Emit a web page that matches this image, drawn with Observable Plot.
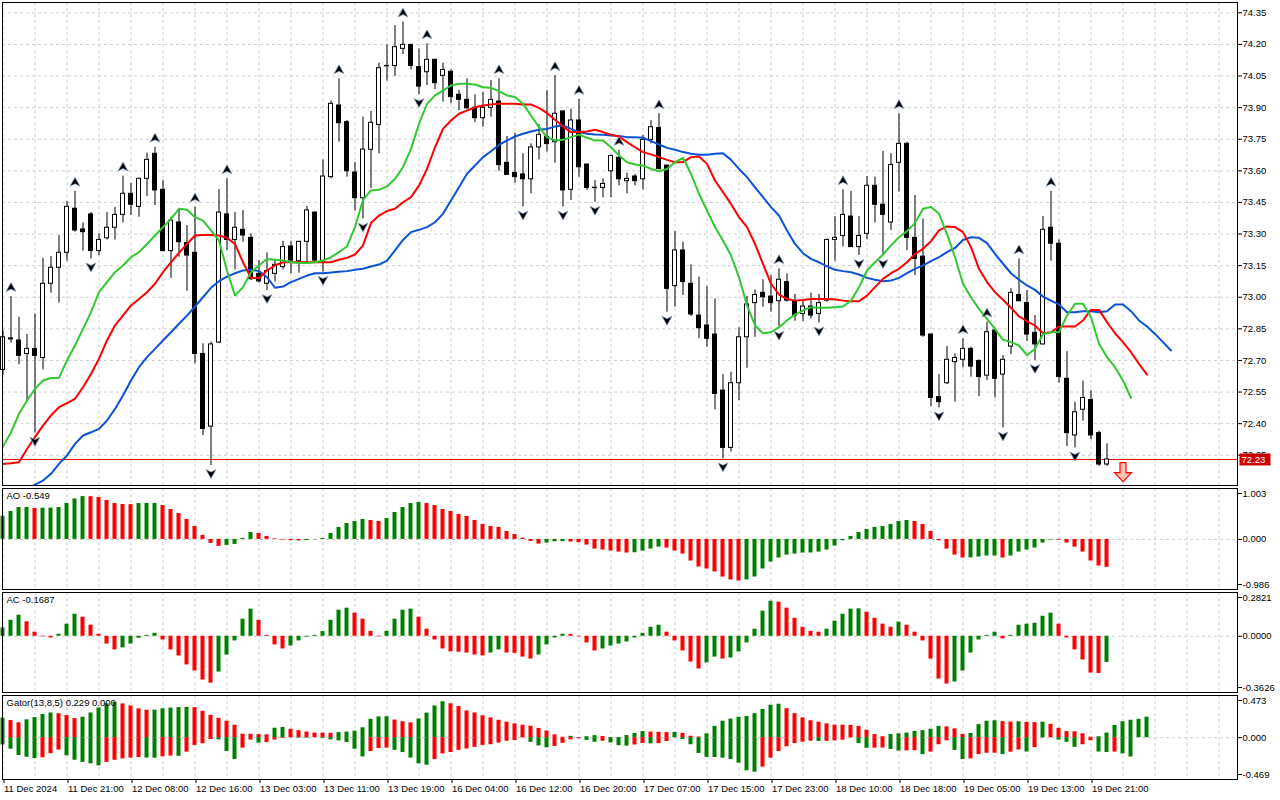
<!DOCTYPE html>
<html><head><meta charset="utf-8">
<script src="https://cdn.jsdelivr.net/npm/d3@7"></script>
<script src="https://cdn.jsdelivr.net/npm/@observablehq/plot@0.6"></script>
<style>
html,body{margin:0;padding:0;background:#fff;}
#chart{position:relative;width:1280px;height:800px;overflow:hidden;background:#fff;}
#chart svg{position:absolute;left:0;display:block;}
</style></head>
<body><div id="chart"></div>
<script>
// ---------- DATA ----------
const open = [72.655,72.80,72.795,72.731,72.755,72.712,73.064,73.14,73.211,73.42,
 73.322,73.393,73.219,73.28,73.33,73.391,73.491,73.429,73.562,73.681,
 73.51,73.219,73.355,73.257,73.211,72.731,72.386,72.785,73.393,73.272,
 73.32,73.282,73.111,73.064,73.111,73.143,73.241,73.171,73.263,73.402,
 73.166,73.57,73.91,73.831,73.592,73.47,73.70,73.818,74.098,74.098,
 74.179,74.198,74.092,74.068,74.127,74.051,74.07,73.961,73.937,73.899,
 73.85,73.899,73.929,73.638,73.59,73.583,73.56,73.711,73.761,73.736,
 73.882,73.51,73.839,73.63,73.52,73.519,73.598,73.662,73.551,73.573,
 73.56,73.747,73.803,73.625,73.053,73.222,73.064,72.913,72.866,72.823,
 72.557,72.285,72.592,72.81,72.972,73.021,73.003,72.981,73.072,72.981,
 72.921,72.956,72.921,72.984,73.272,73.291,73.383,73.238,73.301,73.529,
 73.439,73.355,73.638,73.728,73.282,73.193,72.823,72.526,72.592,72.692,
 72.703,72.755,72.697,72.628,72.842,72.633,72.766,73.011,72.973,72.831,
 72.776,73.33,73.254,72.613,72.344,72.466,72.512,72.355,72.206];
const high = [72.84,73.003,72.905,72.823,72.921,73.185,73.193,73.293,73.454,73.503,
 73.353,73.402,73.301,73.402,73.426,73.575,73.54,73.565,73.684,73.712,
 73.554,73.38,73.412,73.34,73.428,72.779,72.787,73.511,73.562,73.402,
 73.412,73.301,73.174,73.211,73.174,73.266,73.266,73.266,73.431,73.405,
 73.652,73.931,74.037,73.839,73.64,73.855,73.882,74.111,74.198,74.29,
 74.306,74.2,74.179,74.203,74.13,74.111,74.079,73.981,74.037,73.961,
 73.973,74.029,74.037,73.763,73.779,73.681,73.728,73.82,73.981,74.052,
 73.885,73.893,73.939,73.632,73.554,73.562,73.673,73.697,73.589,73.583,
 73.768,73.839,73.871,73.627,73.312,73.262,73.154,73.095,73.05,72.992,
 72.633,72.644,72.855,73.004,73.035,73.083,73.103,73.135,73.111,73.013,
 72.984,73.019,73.013,73.277,73.383,73.51,73.502,73.383,73.573,73.57,
 73.692,73.681,73.871,73.736,73.483,73.372,72.825,72.633,72.766,72.731,
 72.803,72.763,72.703,72.882,72.845,72.723,73.04,73.182,73.032,72.913,
 73.383,73.503,73.273,72.742,72.502,72.602,72.557,72.364,72.304];
const low = [72.63,72.782,72.68,72.502,72.355,72.655,73.019,72.972,73.171,73.309,
 73.219,73.182,73.198,73.272,73.272,73.352,73.388,73.38,73.478,73.435,
 73.215,73.09,73.19,73.029,72.684,72.344,72.201,72.78,73.222,73.13,
 73.261,73.079,73.067,73.032,73.072,73.13,73.111,73.114,73.159,73.166,
 73.119,73.562,73.736,73.57,73.409,73.372,73.515,73.681,74.026,74.048,
 74.152,74.079,73.962,74.005,73.985,73.926,73.918,73.886,73.89,73.828,
 73.807,73.855,73.598,73.578,73.541,73.428,73.491,73.652,73.689,73.636,
 73.428,73.459,73.57,73.507,73.451,73.472,73.472,73.529,73.491,73.529,
 73.51,73.728,73.606,72.929,72.953,73.008,72.909,72.803,72.763,72.466,
 72.233,72.265,72.51,72.663,72.81,72.953,72.929,72.858,72.977,72.886,
 72.885,72.897,72.878,72.977,73.171,73.238,73.236,73.198,73.272,73.352,
 73.198,73.317,73.499,73.222,73.103,72.81,72.481,72.475,72.586,72.502,
 72.665,72.621,72.529,72.605,72.522,72.38,72.728,72.979,72.791,72.70,
 72.774,73.171,72.592,72.291,72.285,72.412,72.323,72.197,72.197];
const close = [72.81,72.805,72.722,72.755,72.722,73.064,73.14,73.211,73.429,73.317,
 73.309,73.219,73.272,73.33,73.391,73.491,73.439,73.562,73.652,73.507,
 73.219,73.364,73.261,73.198,72.731,72.375,72.776,73.402,73.272,73.33,
 73.293,73.086,73.075,73.124,73.154,73.238,73.174,73.263,73.412,73.174,
 73.573,73.918,73.826,73.598,73.47,73.701,73.828,74.087,74.096,74.187,
 74.198,74.098,74.0,74.127,74.016,74.079,73.95,73.937,73.897,73.85,
 73.899,73.937,73.627,73.581,73.57,73.56,73.711,73.771,73.727,73.871,
 73.507,73.839,73.617,73.519,73.518,73.538,73.671,73.56,73.562,73.551,
 73.747,73.807,73.608,73.04,73.222,73.072,72.918,72.853,72.803,72.541,
 72.285,72.592,72.81,72.966,73.011,73.0,72.972,73.083,72.984,72.913,
 72.956,72.913,72.972,73.272,73.282,73.391,73.238,73.291,73.529,73.439,
 73.391,73.628,73.728,73.282,73.182,72.818,72.522,72.502,72.703,72.712,
 72.755,72.671,72.621,72.834,72.613,72.703,73.021,72.981,72.823,72.776,
 73.32,73.254,72.621,72.355,72.454,72.522,72.344,72.206,72.23];

// Alligator lines (values at their displayed bar positions)
const jaw = [71.99,72.02,72.05,72.08,72.111,72.13,72.162,72.209,72.249,72.304,
 72.344,72.359,72.375,72.415,72.47,72.534,72.605,72.668,72.716,72.755,
 72.795,72.834,72.874,72.913,72.956,73.0,73.045,73.076,73.098,73.114,
 73.127,73.13,73.124,73.095,73.045,73.051,73.072,73.087,73.103,73.114,
 73.114,73.117,73.121,73.124,73.13,73.135,73.146,73.155,73.174,73.222,
 73.272,73.309,73.32,73.333,73.356,73.396,73.459,73.522,73.586,73.625,
 73.665,73.693,73.723,73.744,73.763,73.776,73.787,73.795,73.799,73.81,
 73.815,73.799,73.784,73.776,73.772,73.771,73.768,73.765,73.76,73.76,
 73.757,73.741,73.725,73.709,73.70,73.689,73.681,73.676,73.676,73.681,
 73.684,73.652,73.609,73.57,73.522,73.475,73.428,73.388,73.317,73.253,
 73.209,73.182,73.166,73.147,73.13,73.124,73.119,73.108,73.092,73.083,
 73.076,73.079,73.092,73.114,73.135,73.151,73.171,73.19,73.214,73.234,
 73.272,73.285,73.282,73.257,73.206,73.159,73.114,73.083,73.056,73.035,
 73.003,72.984,72.966,72.929,72.929,72.934,72.934,72.929,72.934,72.966,
 72.966,72.934,72.89,72.861,72.826,72.787,72.747];
const teeth = [72.209,72.212,72.217,72.28,72.336,72.391,72.439,72.478,72.497,72.518,
 72.573,72.636,72.708,72.795,72.866,72.913,72.961,72.992,73.024,73.064,
 73.119,73.166,73.211,73.253,73.293,73.296,73.296,73.293,73.282,73.253,
 73.166,73.092,73.09,73.127,73.151,73.166,73.166,73.166,73.166,73.166,
 73.166,73.166,73.178,73.187,73.203,73.246,73.352,73.388,73.409,73.42,
 73.451,73.475,73.53,73.609,73.712,73.799,73.839,73.871,73.886,73.902,
 73.91,73.915,73.918,73.918,73.918,73.915,73.915,73.899,73.874,73.842,
 73.81,73.784,73.784,73.787,73.795,73.784,73.771,73.763,73.736,73.712,
 73.689,73.678,73.665,73.652,73.641,73.641,73.665,73.668,73.633,73.554,
 73.499,73.443,73.38,73.333,73.253,73.159,73.064,73.013,72.992,72.984,
 72.987,72.992,72.992,72.992,72.989,72.984,72.981,72.981,73.008,73.048,
 73.087,73.114,73.135,73.166,73.206,73.23,73.266,73.317,73.336,73.333,
 73.309,73.238,73.135,73.072,73.024,72.988,72.95,72.909,72.886,72.866,
 72.829,72.834,72.861,72.861,72.861,72.89,72.94,72.94,72.882,72.829,
 72.787,72.739,72.684,72.633];
const lips = [72.291,72.359,72.447,72.51,72.565,72.605,72.617,72.617,72.70,72.771,
 72.85,72.929,73.024,73.072,73.119,73.151,73.19,73.214,73.253,73.293,
 73.333,73.372,73.42,73.415,73.38,73.364,73.317,73.269,73.127,73.008,
 73.048,73.119,73.151,73.182,73.178,73.174,73.166,73.162,73.162,73.166,
 73.174,73.19,73.214,73.241,73.333,73.462,73.507,73.51,73.526,73.562,
 73.617,73.704,73.823,73.918,73.958,73.981,74.005,74.013,74.013,74.01,
 73.997,73.994,73.978,73.958,73.95,73.918,73.863,73.807,73.76,73.744,
 73.747,73.76,73.772,73.757,73.744,73.744,73.712,73.673,73.641,73.63,
 73.625,73.609,73.598,73.609,73.641,73.662,73.586,73.491,73.412,73.333,
 73.269,73.198,73.095,72.961,72.866,72.829,72.834,72.858,72.89,72.918,
 72.937,72.953,72.95,72.95,72.953,72.956,72.984,73.048,73.127,73.166,
 73.203,73.246,73.285,73.314,73.352,73.42,73.428,73.396,73.301,73.19,
 73.064,73.0,72.945,72.897,72.85,72.798,72.787,72.771,72.725,72.755,
 72.826,72.834,72.834,72.913,72.969,72.969,72.905,72.779,72.716,72.668,
 72.605,72.522];

const fractalUp = [1,9,15,19,24,28,42,50,53,62,69,72,77,82,97,105,112,120,123,127,131];
const fractalDown = [4,11,26,33,40,45,52,65,70,74,83,90,97,102,107,110,117,125,129,134];

const ao = [0.458,0.55,0.628,0.63,0.609,0.615,0.617,0.628,0.707,0.798,
 0.844,0.842,0.825,0.766,0.707,0.687,0.685,0.707,0.709,0.71,
 0.668,0.589,0.51,0.393,0.255,0.079,-0.079,-0.137,-0.118,-0.098,
 0.02,0.137,0.118,0.059,0.013,-0.013,-0.026,-0.028,-0.022,-0.007,
 0.02,0.118,0.236,0.314,0.353,0.393,0.373,0.353,0.412,0.53,
 0.628,0.707,0.726,0.707,0.668,0.589,0.55,0.491,0.452,0.373,
 0.295,0.255,0.236,0.157,0.098,0.026,-0.039,-0.092,-0.072,-0.046,
 -0.044,-0.052,-0.065,-0.111,-0.19,-0.209,-0.229,-0.249,-0.268,-0.262,
 -0.229,-0.19,-0.151,-0.17,-0.229,-0.288,-0.425,-0.543,-0.582,-0.641,
 -0.74,-0.798,-0.818,-0.798,-0.74,-0.582,-0.445,-0.366,-0.308,-0.288,
 -0.268,-0.266,-0.249,-0.209,-0.131,-0.026,0.059,0.137,0.196,0.236,
 0.255,0.295,0.353,0.373,0.353,0.295,0.157,-0.026,-0.19,-0.308,
 -0.366,-0.364,-0.347,-0.327,-0.325,-0.366,-0.327,-0.249,-0.209,-0.17,
 -0.072,-0.013,-0.015,-0.072,-0.151,-0.249,-0.425,-0.524,-0.549];
const ac = [0.054,0.103,0.136,0.093,0.026,-0.004,-0.011,0.013,0.078,0.142,
 0.123,0.071,0.013,-0.05,-0.088,-0.075,-0.05,-0.013,0.006,0.019,
 -0.024,-0.088,-0.127,-0.185,-0.224,-0.282,-0.302,-0.231,-0.121,-0.03,
 0.11,0.175,0.103,0.006,-0.056,-0.082,-0.063,-0.03,-0.006,0.006,
 0.03,0.103,0.168,0.181,0.149,0.11,0.032,-0.004,0.032,0.11,
 0.168,0.175,0.123,0.045,-0.024,-0.082,-0.101,-0.103,-0.108,-0.121,
 -0.127,-0.108,-0.088,-0.108,-0.11,-0.134,-0.147,-0.121,-0.056,-0.011,
 0.013,0.012,-0.004,-0.043,-0.095,-0.082,-0.063,-0.05,-0.037,-0.011,
 0.019,0.058,0.071,0.026,-0.03,-0.095,-0.166,-0.211,-0.172,-0.134,
 -0.147,-0.14,-0.101,-0.043,0.045,0.162,0.226,0.22,0.181,0.116,
 0.058,0.032,0.026,0.045,0.097,0.142,0.175,0.177,0.155,0.116,
 0.078,0.058,0.091,0.071,0.026,-0.03,-0.147,-0.276,-0.308,-0.295,
 -0.224,-0.108,-0.024,0.006,0.026,-0.017,0.006,0.071,0.078,0.084,
 0.129,0.149,0.078,-0.011,-0.088,-0.153,-0.237,-0.24,-0.1687];
const gatorUpper = [0.219,0.192,0.167,0.200,0.225,0.261,0.277,0.269,0.248,0.214,
 0.229,0.277,0.333,0.380,0.396,0.379,0.356,0.324,0.308,0.309,
 0.324,0.332,0.337,0.340,0.337,0.296,0.251,0.217,0.184,0.139,
 0.039,0.038,0.034,0.032,0.106,0.115,0.094,0.079,0.063,0.052,
 0.051,0.049,0.057,0.063,0.073,0.111,0.206,0.233,0.235,0.198,
 0.179,0.166,0.210,0.276,0.356,0.403,0.380,0.349,0.300,0.277,
 0.245,0.222,0.195,0.174,0.155,0.139,0.128,0.104,0.075,0.032,
 0.005,0.015,0.002,0.011,0.023,0.013,0.003,0.002,0.024,0.048,
 0.068,0.063,0.060,0.057,0.059,0.048,0.016,0.008,0.043,0.127,
 0.185,0.209,0.229,0.237,0.269,0.316,0.364,0.375,0.325,0.269,
 0.222,0.190,0.174,0.155,0.141,0.140,0.138,0.127,0.084,0.035,
 0.011,0.035,0.043,0.052,0.071,0.079,0.095,0.127,0.122,0.099,
 0.037,0.047,0.147,0.185,0.190,0.180,0.175,0.178,0.172,0.169,
 0.174,0.150,0.105,0.068,0.066,0.044,0.006,0.011,0.052,0.137,
 0.179,0.195,0.206,0.229];
const gatorLower = [-0.082,-0.13,-0.20,-0.22,-0.235,-0.225,-0.18,-0.139,-0.203,-0.253,
 -0.277,-0.293,-0.316,-0.277,-0.253,-0.238,-0.229,-0.222,-0.229,-0.230,
 -0.214,-0.206,-0.209,-0.162,-0.087,-0.068,-0.021,-0.024,-0.155,-0.245,
 -0.118,-0.027,-0.061,-0.055,-0.027,-0.008,-0.001,-0.004,-0.004,-0.001,
 -0.008,-0.024,-0.036,-0.054,-0.130,-0.216,-0.155,-0.122,-0.117,-0.142,
 -0.166,-0.229,-0.293,-0.309,-0.246,-0.182,-0.166,-0.142,-0.127,-0.108,
 -0.087,-0.079,-0.060,-0.040,-0.032,-0.003,-0.052,-0.092,-0.114,-0.098,
 -0.063,-0.024,-0.012,-0.030,-0.051,-0.040,-0.059,-0.090,-0.095,-0.082,
 -0.064,-0.069,-0.067,-0.043,-0.001,-0.021,-0.079,-0.177,-0.221,-0.222,
 -0.230,-0.245,-0.285,-0.372,-0.387,-0.330,-0.230,-0.155,-0.102,-0.066,
 -0.050,-0.039,-0.042,-0.041,-0.036,-0.028,-0.003,-0.067,-0.119,-0.118,
 -0.116,-0.132,-0.150,-0.148,-0.146,-0.190,-0.162,-0.079,-0.035,-0.143,
 -0.245,-0.238,-0.190,-0.175,-0.174,-0.190,-0.163,-0.138,-0.161,-0.111,
 -0.003,-0.001,-0.027,-0.052,-0.108,-0.079,-0.035,-0.161,-0.166,-0.161,
 -0.182,-0.217];

const priceTicks = [74.35,74.20,74.05,73.90,73.75,73.60,73.45,73.30,73.15,73.00,72.85,72.70,72.55,72.40,72.25];
const lastPrice = 72.23;
const sellSignal = [{i: 140, price: 72.17}];
const xTickIdx = [0,8,16,24,32,40,48,56,64,72,80,88,96,104,112,120,128,136];
const xTickLabels = ["11 Dec 2024","11 Dec 21:00","12 Dec 08:00","12 Dec 16:00","13 Dec 03:00","13 Dec 11:00",
 "13 Dec 19:00","16 Dec 04:00","16 Dec 12:00","16 Dec 20:00","17 Dec 07:00","17 Dec 15:00","17 Dec 23:00",
 "18 Dec 10:00","18 Dec 18:00","19 Dec 05:00","19 Dec 13:00","19 Dec 21:00"];
const panelTitles = ["AO -0.549", "AC -0.1687", "Gator(13,8,5) 0.229 0.000"];
const aoScale = [-0.986, 1.003];
const acScale = [-0.3626, 0.2821];
const gatorScale = [-0.469, 0.473];

// ---------- STYLE / LAYOUT ----------
const W = 1280, MR = 43, ML = 2;
const xDomain = [-0.0625, 154.3125];
const gridIdx = d3.range(0, 155, 4);
const GREEN = "#008000", RED = "#ff0000";
const gridStyle = {stroke: "#cfcfcf", strokeOpacity: 1, strokeDasharray: "3,3"};
const baseStyle = {fontFamily: "'Liberation Sans', Arial, sans-serif", fontSize: "9.5px", color: "#000", background: "#fff", overflow: "visible"};

const candles = open.map((o, i) => ({i, o, h: high[i], l: low[i], c: close[i]}));
const series = arr => arr.map((v, i) => ({i, v}));
const upArrow = {draw(ctx) { ctx.moveTo(0, -5); ctx.lineTo(5, 4); ctx.lineTo(0, 1.5); ctx.lineTo(-5, 4); ctx.closePath(); }};
const downArrow = {draw(ctx) { ctx.moveTo(0, 5); ctx.lineTo(5, -4); ctx.lineTo(0, -1.5); ctx.lineTo(-5, -4); ctx.closePath(); }};
const sellArrow = {draw(ctx) { ctx.moveTo(-3, -9.5); ctx.lineTo(3, -9.5); ctx.lineTo(3, 0.5); ctx.lineTo(8.5, 0.5); ctx.lineTo(0, 9.5); ctx.lineTo(-8.5, 0.5); ctx.lineTo(-3, 0.5); ctx.closePath(); }};
const priceBox = {draw(ctx) { ctx.rect(0, -6, 31, 12); }};

const fmt2 = v => v.toFixed(2);

const main = Plot.plot({
  width: W, height: 487, marginTop: 2, marginBottom: 2, marginLeft: ML, marginRight: MR,
  x: {type: "linear", domain: xDomain, axis: null},
  y: {domain: [72.1065, 74.399], axis: null},
  color: {type: "identity"},
  style: baseStyle,
  marks: [
    Plot.gridY(priceTicks, gridStyle),
    Plot.gridX(gridIdx, gridStyle),
    Plot.ruleY([lastPrice], {stroke: "#ff0000"}),
    Plot.ruleX(candles, {x: "i", y1: "l", y2: "h", stroke: "#000"}),
    Plot.rect(candles, {x1: d => d.i - 0.5, x2: d => d.i + 0.5, insetLeft: 2, insetRight: 2,
      y1: "o", y2: "c", fill: d => d.c >= d.o ? "#fff" : "#000", stroke: "#000"}),
    Plot.line(series(jaw), {x: "i", y: "v", stroke: "#0a52d6", strokeWidth: 2, clip: true}),
    Plot.line(series(teeth), {x: "i", y: "v", stroke: "#ff0000", strokeWidth: 2, clip: true}),
    Plot.line(series(lips), {x: "i", y: "v", stroke: "#32c832", strokeWidth: 2, clip: true}),
    Plot.dot(fractalUp.map(i => ({i, y: high[i]})), {x: "i", y: "y", dy: -9, r: 4.5, symbol: upArrow, fill: "#000", stroke: "#8aa0c8", strokeWidth: 0.7}),
    Plot.dot(fractalDown.map(i => ({i, y: low[i]})), {x: "i", y: "y", dy: 8, r: 4.5, symbol: downArrow, fill: "#000", stroke: "#8aa0c8", strokeWidth: 0.7}),
    Plot.dot(sellSignal, {x: "i", y: "price", r: 9, symbol: sellArrow, fill: "#ffc2b0", stroke: "#ff0000", strokeWidth: 1.2}),
    Plot.axisY(priceTicks, {anchor: "right", label: null, tickSize: 4, tickPadding: 1, tickFormat: fmt2}),
    Plot.dot([lastPrice], {y: d => d, frameAnchor: "right", dx: 2, r: 5, symbol: priceBox, fill: "#c80000", stroke: "none"}),
    Plot.text([lastPrice], {y: d => d, frameAnchor: "right", dx: 4, textAnchor: "start", fill: "#fff", text: d => d.toFixed(2)}),
    Plot.frame({stroke: "#000"})
  ]
});

function signedColors(vals) {
  return vals.map((v, i) => ({i, v, fill: i === 0 || v > vals[i - 1] ? GREEN : RED}));
}
function absColors(vals) {
  return vals.map((v, i) => ({i, v, fill: i === 0 || Math.abs(v) >= Math.abs(vals[i - 1]) ? GREEN : RED}));
}

function subPanel({height, marginBottom = 2, domain, fmt, title, bars, xAxis}) {
  const axisOpts = {anchor: "right", label: null, tickSize: 4, tickPadding: 1, tickFormat: fmt};
  return Plot.plot({
    width: W, height, marginTop: 2, marginBottom, marginLeft: ML, marginRight: MR,
    x: {type: "linear", domain: xDomain, axis: null},
    y: {domain, axis: null},
    color: {type: "identity"},
    style: baseStyle,
    marks: [
      Plot.gridX(gridIdx, gridStyle),
      Plot.ruleY([0], {stroke: "#cfcfcf", strokeDasharray: "3,3"}),
      ...bars.map(b => Plot.rect(b, {x1: d => d.i - 0.5, x2: d => d.i + 0.5, insetLeft: 2, insetRight: 2, y1: 0, y2: "v", fill: "fill"})),
      Plot.text([title], {frameAnchor: "top-left", dx: 4, dy: 4, textAnchor: "start", lineAnchor: "top", fill: "#000"}),
      Plot.axisY([domain[1]], {...axisOpts, dy: 5}),
      Plot.axisY([0], axisOpts),
      Plot.axisY([domain[0]], {...axisOpts, dy: -5}),
      xAxis ? Plot.axisX(xTickIdx, {anchor: "bottom", label: null, tickSize: 4, tickPadding: 2, textAnchor: "start", dx: 1,
        tickFormat: d => xTickLabels[xTickIdx.indexOf(d)]}) : null,
      Plot.frame({stroke: "#000"})
    ]
  });
}

const aoPlot = subPanel({height: 105, domain: aoScale, fmt: v => v.toFixed(3), title: panelTitles[0], bars: [signedColors(ao)]});
const acPlot = subPanel({height: 104, domain: acScale, fmt: v => v.toFixed(4), title: panelTitles[1], bars: [signedColors(ac)]});
const gatorPlot = subPanel({height: 107, marginBottom: 21, domain: gatorScale, fmt: v => v.toFixed(3), title: panelTitles[2],
  bars: [absColors(gatorUpper), absColors(gatorLower)], xAxis: true});

const chart = document.getElementById("chart");
[[main, 0], [aoPlot, 486], [acPlot, 590], [gatorPlot, 693]].forEach(([svg, top]) => {
  svg.style.top = top + "px";
  chart.appendChild(svg);
});
</script>
</body></html>
